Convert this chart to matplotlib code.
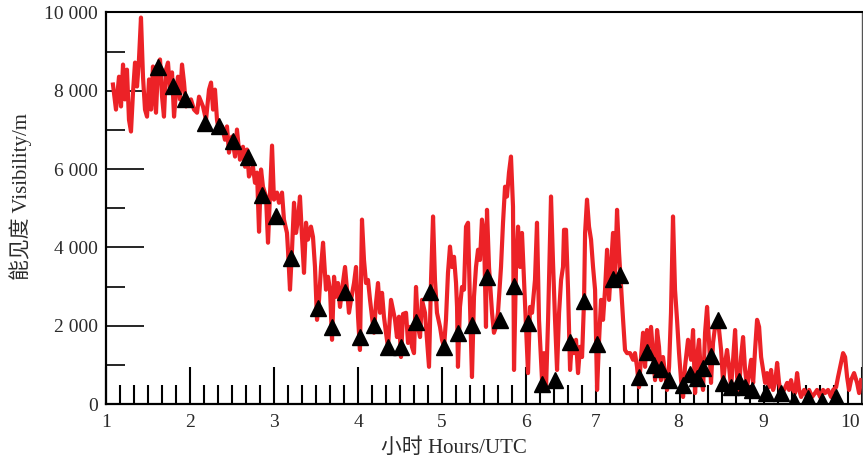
import matplotlib
matplotlib.use("Agg")
import matplotlib.pyplot as plt
import matplotlib.transforms as mtransforms
from matplotlib.ticker import MultipleLocator, FixedLocator

# ---- data -------------------------------------------------------------
line_hours = [
    1.077, 1.113, 1.149, 1.173, 1.197, 1.220, 1.244, 1.268, 1.292, 1.316,
    1.340, 1.364, 1.387, 1.411, 1.435, 1.459, 1.483, 1.507, 1.531, 1.554,
    1.578, 1.590, 1.614, 1.638, 1.662, 1.685, 1.709, 1.733, 1.757, 1.781,
    1.805, 1.828, 1.852, 1.876, 1.900, 1.924, 1.948, 1.983, 2.007, 2.043,
    2.079, 2.103, 2.150, 2.186, 2.222, 2.246, 2.270, 2.293, 2.317, 2.341,
    2.377, 2.412, 2.436, 2.460, 2.496, 2.532, 2.555, 2.591, 2.627, 2.651,
    2.675, 2.698, 2.746, 2.770, 2.794, 2.818, 2.842, 2.865, 2.901, 2.925,
    2.973, 2.996, 3.032, 3.056, 3.092, 3.115, 3.151, 3.163, 3.187, 3.211,
    3.235, 3.259, 3.282, 3.306, 3.330, 3.354, 3.378, 3.401, 3.437, 3.461,
    3.485, 3.509, 3.533, 3.557, 3.581, 3.616, 3.640, 3.664, 3.688, 3.712,
    3.735, 3.759, 3.783, 3.807, 3.843, 3.866, 3.890, 3.914, 3.950, 3.974,
    3.998, 4.021, 4.045, 4.069, 4.093, 4.117, 4.141, 4.164, 4.188, 4.212,
    4.236, 4.260, 4.284, 4.307, 4.331, 4.355, 4.391, 4.415, 4.439, 4.462,
    4.486, 4.510, 4.534, 4.570, 4.594, 4.617, 4.641, 4.665, 4.689, 4.713,
    4.737, 4.760, 4.796, 4.820, 4.844, 4.868, 4.892, 4.915, 4.939, 4.975,
    4.999, 5.023, 5.046, 5.070, 5.094, 5.118, 5.142, 5.166, 5.178, 5.189,
    5.213, 5.237, 5.261, 5.285, 5.309, 5.333, 5.356, 5.380, 5.404, 5.428,
    5.452, 5.475, 5.499, 5.523, 5.535, 5.559, 5.595, 5.618, 5.642, 5.666,
    5.702, 5.726, 5.750, 5.773, 5.797, 5.821, 5.845, 5.857, 5.881, 5.905,
    5.929, 5.952, 5.976, 6.000, 6.024, 6.048, 6.072, 6.107, 6.131, 6.155,
    6.191, 6.215, 6.239, 6.263, 6.298, 6.322, 6.346, 6.370, 6.394, 6.418,
    6.441, 6.453, 6.477, 6.501, 6.525, 6.548, 6.572, 6.596, 6.620, 6.644,
    6.668, 6.692, 6.704, 6.727, 6.751, 6.775, 6.799, 6.823, 6.847, 6.871,
    6.894, 6.918, 6.942, 6.966, 6.990, 7.013, 7.037, 7.061, 7.085, 7.109,
    7.133, 7.157, 7.180, 7.204, 7.240, 7.276, 7.299, 7.323, 7.347, 7.371,
    7.395, 7.419, 7.442, 7.466, 7.490, 7.514, 7.538, 7.562, 7.585, 7.609,
    7.633, 7.657, 7.681, 7.705, 7.728, 7.752, 7.776, 7.800, 7.824, 7.848,
    7.872, 7.895, 7.931, 7.967, 7.991, 8.015, 8.039, 8.062, 8.086, 8.110,
    8.134, 8.158, 8.182, 8.205, 8.229, 8.253, 8.277, 8.301, 8.325, 8.349,
    8.373, 8.396, 8.420, 8.444, 8.468, 8.492, 8.516, 8.540, 8.563, 8.587,
    8.611, 8.635, 8.659, 8.683, 8.707, 8.730, 8.754, 8.778, 8.802, 8.826,
    8.850, 8.873, 8.897, 8.921, 8.945, 8.969, 8.993, 9.016, 9.040, 9.076,
    9.112, 9.135, 9.159, 9.183, 9.207, 9.231, 9.255, 9.279, 9.314, 9.350,
    9.374, 9.410, 9.445, 9.469, 9.505, 9.541, 9.565, 9.600, 9.636, 9.660,
    9.696, 9.719, 9.755, 9.779, 9.803, 9.827, 9.850, 9.874, 9.910, 9.946,
    9.970, 9.994,
]
line_visibility = [
    8160, 7520, 8360, 7600, 8670, 7780, 8540, 7260, 6960, 7960,
    8720, 8110, 8800, 9870, 8360, 7520, 7340, 8290, 7520, 8620,
    7780, 7440, 8620, 8800, 7850, 7340, 8540, 8720, 8030, 8470,
    7340, 7960, 8360, 7780, 8670, 8210, 7600, 7700, 7780, 7520,
    7440, 7850, 7600, 7260, 8030, 8210, 7520, 8030, 7260, 6930,
    7090, 6750, 7090, 6420, 6830, 6320, 7010, 6240, 6570, 6060,
    6500, 5810, 6060, 5650, 5910, 4400, 5990, 5550, 5300, 4120,
    6600, 5220, 5400, 5140, 5400, 4710, 4370, 3940, 2920, 3940,
    5140, 4370, 4710, 5300, 4270, 3350, 4630, 4200, 4530, 4270,
    3500, 2150, 2660, 3500, 4120, 2920, 3250, 2920, 1640, 3250,
    2740, 3090, 2480, 2920, 3500, 2920, 2330, 2660, 3090, 3500,
    2230, 1380, 4710, 3680, 3090, 3170, 2660, 2230, 1820, 2580,
    3090, 2330, 2840, 2230, 1820, 1460, 2660, 2400, 2150, 1710,
    2230, 1200, 2300, 2330, 1560, 1970, 1460, 1300, 2990, 1970,
    1710, 2660, 2330, 1640, 950, 3170, 4790, 3170, 2330, 1970,
    1640, 1460, 2150, 3350, 4020, 3500, 3760, 3090, 2480, 950,
    2480, 2990, 2920, 4530, 4630, 2480, 690, 2740, 3500, 3940,
    3680, 4710, 4370, 1970, 4960, 3500, 2330, 1820, 1970, 2330,
    3500, 4630, 5550, 5300, 5910, 6320, 5040, 870, 3500, 4530,
    3500, 4370, 3170, 1970, 790, 2480, 2330, 3170, 4630, 2150,
    610, 1300, 430, 2150, 5300, 3610, 2150, 870, 2330, 3170,
    3500, 4450, 4450, 2920, 870, 1640, 1300, 1640, 790, 1460,
    1200, 2660, 4370, 5220, 4530, 4200, 3500, 2920, 360, 1640,
    2660, 2150, 2920, 3940, 2660, 3500, 4370, 3250, 4960, 3860,
    2990, 2150, 1380, 1300, 1300, 1130, 1300, 950, 430, 1200,
    1820, 950, 1890, 1460, 1970, 1300, 610, 1890, 1460, 610,
    1200, 790, 360, 950, 2330, 4790, 2920, 2150, 1300, 610,
    180, 950, 1640, 1130, 1890, 280, 1200, 1640, 690, 360,
    1820, 2480, 1560, 540, 1560, 1970, 2070, 1890, 1380, 540,
    1050, 1380, 950, 430, 1130, 1890, 690, 360, 1200, 1710,
    870, 430, 790, 1130, 540, 1380, 2150, 1970, 1200, 870,
    540, 790, 430, 870, 360, 540, 1050, 540, 280, 360,
    540, 360, 610, 360, 280, 790, 360, 180, 360, 180,
    360, 180, 280, 360, 180, 360, 280, 360, 180, 360,
    430, 690, 1050, 1300, 1200, 690, 360, 610, 790, 540,
    280, 610,
]

marker_hours = [
    1.61, 1.79, 1.94, 2.17, 2.34, 2.51, 2.69, 2.85, 3.02, 3.20,
    3.52, 3.69, 3.84, 4.02, 4.19, 4.35, 4.51, 4.69, 4.86, 5.02,
    5.19, 5.36, 5.54, 5.69, 5.86, 6.02, 6.19, 6.34, 6.53, 6.69,
    6.85, 7.04, 7.12, 7.35, 7.44, 7.53, 7.61, 7.70, 7.87, 7.96,
    8.04, 8.11, 8.21, 8.29, 8.35, 8.44, 8.54, 8.61, 8.69, 8.86,
    9.04, 9.20, 9.36, 9.53, 9.69,
]
marker_visibility = [
    8600, 8110, 7800, 7190, 7090, 6730, 6320, 5340, 4810, 3730,
    2460, 1970, 2870, 1710, 2020, 1460, 1460, 2100, 2870, 1460,
    1820, 2020, 3250, 2150, 3020, 2070, 520, 610, 1590, 2640,
    1530, 3200, 3300, 690, 1330, 1000, 890, 610, 490, 760,
    660, 920, 1230, 2150, 540, 430, 590, 430, 360, 280,
    280, 80, 150, 80, 180,
]

x_ticks = [1, 2, 3, 4, 5, 6, 7, 8, 9, 10]
x_tick_labels = ["1", "2", "3", "4", "5", "6", "7", "8", "9", "10"]
y_ticks = [0, 2000, 4000, 6000, 8000, 10000]
y_tick_labels = ["0", "2 000", "4 000", "6 000", "8 000", "10 000"]
x_label = "小时 Hours/UTC"
y_label = "能见度 Visibility/m"

# ---- figure -----------------------------------------------------------
fonts = ["Liberation Serif", "Noto Sans CJK SC", "DejaVu Sans"]
plt.rcParams["font.family"] = fonts
text_color = "#2a2a2a"

fig = plt.figure(figsize=(8.63, 4.66), dpi=100)
ax = fig.add_axes([0.1234, 0.1330, 0.8750, 0.8402])

ax.plot(line_hours, line_visibility, color="#ec2227", lw=3.0,
        solid_joinstyle="round", zorder=2)
ax.plot(marker_hours, marker_visibility, linestyle="none", marker="^",
        ms=11, color="black", zorder=3)

ax.set_xlim(1, 10)
ax.set_ylim(0, 10000)

ax.xaxis.set_major_locator(FixedLocator(x_ticks))
ax.set_xticklabels(x_tick_labels)
ax.xaxis.set_minor_locator(MultipleLocator(1 / 6))
ax.yaxis.set_major_locator(FixedLocator(y_ticks))
ax.set_yticklabels(y_tick_labels)
ax.yaxis.set_minor_locator(MultipleLocator(1000))

ax.tick_params(axis="x", which="major", direction="in", length=27, width=1.5,
               pad=7, labelsize=14, labelcolor=text_color)
ax.tick_params(axis="x", which="minor", direction="in", length=13.5, width=1.5)
ax.tick_params(axis="y", which="major", direction="in", length=27, width=1.2,
               pad=6, labelsize=14, labelcolor=text_color)
ax.tick_params(axis="y", which="minor", direction="in", length=14, width=1.2)

for s in ["left", "bottom"]:
    ax.spines[s].set_linewidth(1.6)
ax.spines["top"].set_linewidth(1.5)
ax.spines["right"].set_linewidth(1.0)
ax.spines["right"].set_color("#555555")

# the reference has labels 7-10 drawn slightly left of their ticks
offsets = {"7": -0.14, "8": -0.16, "9": -0.14, "10": -0.12}
for lab in ax.get_xticklabels():
    dx = offsets.get(lab.get_text(), 0.0)
    if dx:
        lab.set_transform(lab.get_transform() +
                          mtransforms.ScaledTranslation(dx, 0, fig.dpi_scale_trans))

ax.set_xlabel(x_label, fontsize=15, color=text_color)
ax.xaxis.set_label_coords(0.46, -0.088)
ax.set_ylabel(y_label, fontsize=15, color=text_color)
ax.yaxis.set_label_coords(-0.099, 0.53)

fig.savefig("out.png", dpi=100)
